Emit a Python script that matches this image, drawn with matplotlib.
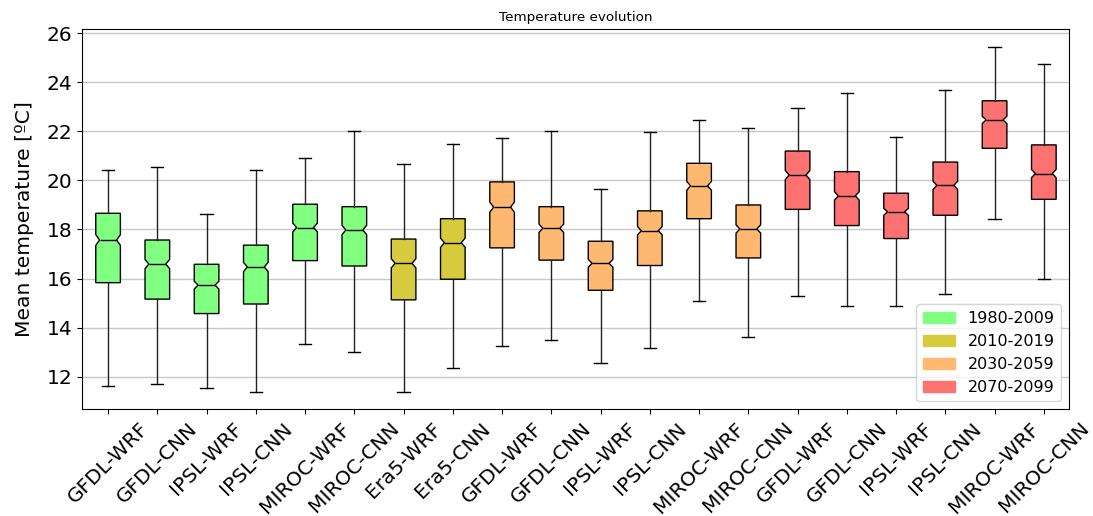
import matplotlib
matplotlib.use('Agg')
import matplotlib.pyplot as plt
import matplotlib.patches as mpatches
import numpy as np

# Datos
labels = ['GFDL-WRF', 'GFDL-CNN', 'IPSL-WRF', 'IPSL-CNN', 'MIROC-WRF', 'MIROC-CNN',
          'Era5-WRF', 'Era5-CNN',
          'GFDL-WRF', 'GFDL-CNN', 'IPSL-WRF', 'IPSL-CNN', 'MIROC-WRF', 'MIROC-CNN',
          'GFDL-WRF', 'GFDL-CNN', 'IPSL-WRF', 'IPSL-CNN', 'MIROC-WRF', 'MIROC-CNN']
periodo = [0, 0, 0, 0, 0, 0, 1, 1, 2, 2, 2, 2, 2, 2, 3, 3, 3, 3, 3, 3]

w_low = [11.63, 11.69, 11.55, 11.38, 13.32, 13.02, 11.39, 12.35, 13.24, 13.48,
         12.55, 13.18, 15.09, 13.61, 15.29, 14.88, 14.88, 15.37, 18.42, 15.98]
q1 = [15.83, 15.16, 14.57, 14.96, 16.73, 16.51, 15.13, 15.97, 17.25, 16.75,
      15.52, 16.53, 18.44, 16.84, 18.82, 18.16, 17.63, 18.58, 21.31, 19.23]
med = [17.57, 16.59, 15.73, 16.47, 18.08, 17.98, 16.62, 17.46, 18.91, 18.05,
       16.62, 17.95, 19.78, 18.02, 20.22, 19.37, 18.72, 19.80, 22.47, 20.28]
q3 = [18.66, 17.57, 16.58, 17.36, 19.03, 18.93, 17.61, 18.44, 19.94, 18.93,
      17.52, 18.76, 20.70, 19.00, 21.20, 20.36, 19.48, 20.75, 23.25, 21.45]
w_high = [20.41, 20.56, 18.63, 20.43, 20.92, 22.00, 20.67, 21.47, 21.74, 22.03,
          19.64, 21.96, 22.48, 22.13, 22.97, 23.55, 21.77, 23.68, 25.45, 24.74]
notch = [0.22, 0.19, 0.16, 0.19, 0.18, 0.19, 0.19, 0.19, 0.21, 0.17,
         0.16, 0.17, 0.18, 0.17, 0.19, 0.17, 0.14, 0.17, 0.15, 0.17]

periodos = ['1980-2009', '2010-2019', '2030-2059', '2070-2099']
colores = ['#80ff80', '#d6cb3c', '#ffb870', '#ff7272']

stats = []
for i in range(len(labels)):
    stats.append(dict(whislo=w_low[i], q1=q1[i], med=med[i], q3=q3[i], whishi=w_high[i],
                      cilo=med[i] - notch[i], cihi=med[i] + notch[i], fliers=[]))

fig = plt.figure(figsize=(10.93, 5.16), dpi=100)
ax = fig.add_axes([0.075, 0.207, 0.903, 0.736])

pos = list(range(1, len(labels) + 1))
ancho = 0.5
bp = ax.bxp(stats, positions=pos, widths=ancho, shownotches=True, patch_artist=True,
            boxprops=dict(edgecolor='black', linewidth=1),
            medianprops=dict(color='black', linewidth=1),
            whiskerprops=dict(color='#222222', linewidth=1),
            capprops=dict(color='black', linewidth=1))

# muesca menos profunda que la de matplotlib
for caja, mediana, p, x in zip(bp['boxes'], bp['medians'], periodo, pos):
    caja.set_facecolor(colores[p])
    v = caja.get_path().vertices
    v[np.isclose(v[:, 0], x - ancho * 0.25), 0] = x - ancho * 0.345
    v[np.isclose(v[:, 0], x + ancho * 0.25), 0] = x + ancho * 0.345
    mediana.set_xdata([x - ancho * 0.345, x + ancho * 0.345])

ax.set_xlim(0.47, 20.51)
ax.set_ylim(10.67, 26.16)
ax.set_yticks([12, 14, 16, 18, 20, 22, 24, 26])
ax.yaxis.grid(True, color='#c8c8c8', linewidth=1)
ax.set_axisbelow(True)
ax.set_xticks(pos)
ax.set_xticklabels(labels, rotation=45, fontsize=14.5)
ax.tick_params(axis='y', labelsize=14.5)
ax.set_ylabel('Mean temperature [ºC]', fontsize=14.6, labelpad=9)
ax.set_title('Temperature evolution', fontsize=9.7)

handles = [mpatches.Patch(color=c, label=l) for c, l in zip(colores, periodos)]
ax.legend(handles=handles, loc='lower right', fontsize=11.5)

fig.savefig('out.png', dpi=100)
